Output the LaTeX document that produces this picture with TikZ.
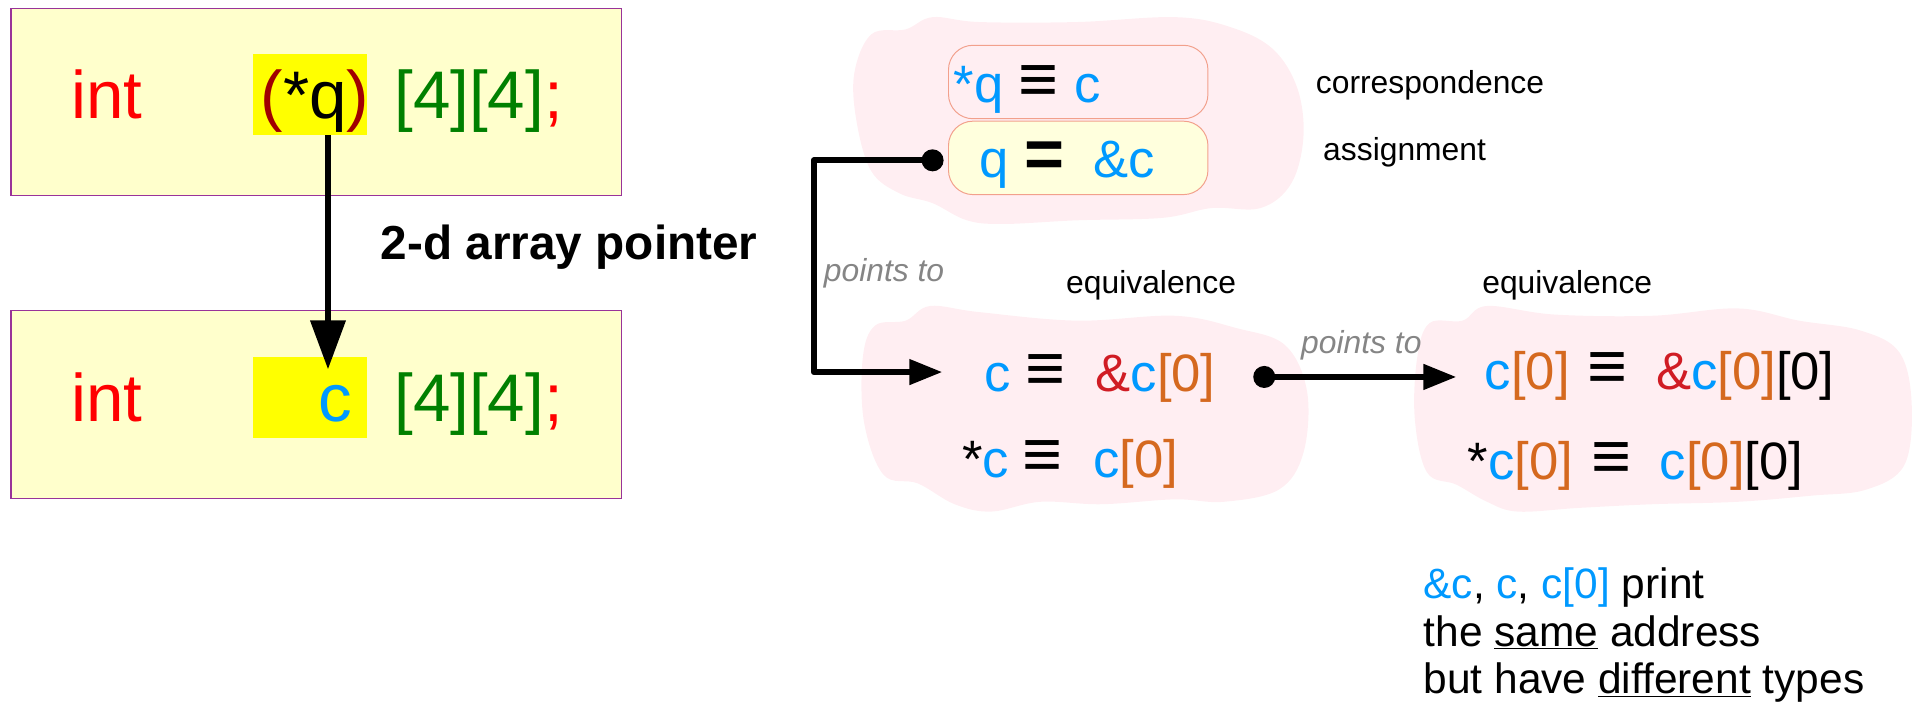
\documentclass[tikz,border=0pt]{standalone}
\usepackage{fontspec}
\setmainfont{Liberation Sans}
\usetikzlibrary{arrows.meta}
\definecolor{boxfill}{HTML}{FFFFCC}
\definecolor{boxline}{HTML}{993399}
\definecolor{hl}{HTML}{FFFF00}
\definecolor{kw}{HTML}{FF0000}
\definecolor{dred}{HTML}{A00000}
\definecolor{grn}{HTML}{008000}
\definecolor{cblue}{HTML}{0099FF}
\definecolor{org}{HTML}{D5691F}
\definecolor{amp}{HTML}{D01C24}
\definecolor{blobfill}{HTML}{FFEEF2}
\definecolor{pillline}{HTML}{F2A08C}
\definecolor{pillyel}{HTML}{FFFFDD}
\definecolor{gr}{HTML}{858585}
\newcommand\fs[1]{\fontsize{#1}{#1}\selectfont}
\newcommand\xb[1]{\textcolor{cblue}{#1}}
\newcommand\xo[1]{\textcolor{org}{#1}}
\newcommand\xr[1]{\textcolor{amp}{#1}}
\newcommand\eqv{{\fs{56}\bfseries ≡}}
\begin{document}
\begin{tikzpicture}[x=1pt,y=-1pt,
  txt/.style={inner sep=0pt, anchor=base west},
  codebox/.style={draw=boxline, line width=0.9pt, fill=boxfill, inner sep=0pt, minimum width=499pt, minimum height=153pt},
  hlbox/.style={fill=hl, inner sep=0pt, minimum width=93pt, minimum height=66pt},
  pill/.style={draw=pillline, line width=0.8pt, rounded corners=20pt, inner sep=0pt, minimum width=212pt, minimum height=60pt},
  dot/.style={circle, fill=black, inner sep=0pt, minimum size=18pt},
  conn/.style={line width=5pt, line join=round},
  lbl/.style={txt, font=\fs{26}},
  ptl/.style={txt, font=\fs{26}\itshape, text=gr}]
\useasboundingbox (0,0) rectangle (1568,574);

% left boxes
\node[codebox] (b1) at (258.5,83.5) {};
\node[codebox] (b2) at (258.5,330.5) {};
\node[hlbox] (hq) at (253.5,77) {};
\node[hlbox] (hc) at (253.5,325) {};

\node[txt, text=kw] (i1) at (58,97) {\fs{55}int};
\node[txt] (q1) at (213,97) {\fs{55}\textcolor{dred}{(}*q\textcolor{dred}{)}};
\node[txt, text=grn] (a1) at (322,97) {\fs{55}[4][4]\textcolor{kw}{;}};

\node[txt, text=kw] (i2) at (58,344) {\fs{55}int};
\node[txt, text=cblue, anchor=base east] (c2) at (288,344) {\fs{55}c};
\node[txt, text=grn] (a2) at (322,344) {\fs{55}[4][4]\textcolor{kw}{;}};

\draw[conn, -{Triangle[length=40pt,width=28pt]}] ([xshift=14.5pt]hq.south) -- ([xshift=14.5pt,yshift=-10pt]hc.north);

\node[txt] (title) at (311,212) {\fs{39}\bfseries 2-d array pointer};

% blobs
\fill[blobfill] plot[smooth cycle, tension=0.6] coordinates {(712,28) (740,24) (762,14) (800,18) (880,18) (960,14) (1005,22) (1040,40) (1060,72) (1065,112) (1055,150) (1030,170) (990,170) (950,178) (880,180) (820,183) (790,180) (762,166) (735,158) (712,140) (700,100) (698,60)};
\fill[blobfill] plot[smooth cycle, tension=0.6] coordinates {(715,266) (740,262) (760,250) (800,255) (880,262) (960,258) (1010,268) (1050,282) (1068,320) (1065,370) (1045,400) (1000,410) (960,408) (900,412) (850,410) (810,418) (780,412) (750,395) (722,388) (706,345) (705,292)};
\fill[blobfill] plot[smooth cycle, tension=0.6] coordinates {(1168,264) (1195,262) (1215,250) (1270,257) (1350,258) (1420,252) (1470,262) (1520,270) (1552,288) (1562,330) (1556,380) (1525,400) (1480,405) (1420,410) (1350,412) (1290,415) (1240,418) (1215,410) (1190,396) (1166,386) (1156,342) (1158,292)};

\node[pill, fill=blobfill] (p1) at (881,67) {};
\node[pill, fill=pillyel] (p2) at (881,129) {};

% pill texts
\node[txt] (ra1) at (779,84) {\fs{43}\xb{*q}};
\node[txt] (ra2) at (832,84) {\eqv};
\node[txt] (ra3) at (878,84) {\fs{43}\xb{c}};
\node[txt] (rb1) at (800,145) {\fs{43}\xb{q}};
\node[txt] (rb2) at (837,145) {\fs{56}\bfseries =};
\node[txt] (rb3) at (893,145) {\fs{43}\xb{\&c}};

\node[lbl] (corr) at (1075,76) {correspondence};
\node[lbl] (assg) at (1081,131) {assignment};
\node[lbl] (eq1) at (871,240) {equivalence};
\node[lbl] (eq2) at (1211,240) {equivalence};

% middle blob texts
\node[txt] (rc1) at (804,320) {\fs{43}\xb{c}};
\node[txt] (rc2) at (838,320) {\eqv};
\node[txt] (rc3) at (895,320) {\fs{43}\xr{\&}\xb{c}\xo{[0]}};
\node[txt] (rd1) at (786,390) {\fs{43}*\xb{c}};
\node[txt] (rd2) at (835,390) {\eqv};
\node[txt] (rd3) at (893,390) {\fs{43}\xb{c}\xo{[0]}};

% right blob texts
\node[txt] (re1) at (1213,318) {\fs{43}\xb{c}\xo{[0]}};
\node[txt] (re2) at (1297,318) {\eqv};
\node[txt] (re3) at (1353,318) {\fs{43}\xr{\&}\xb{c}\xo{[0]}[0]};
\node[txt] (rf1) at (1199,392) {\fs{43}*\xb{c}\xo{[0]}};
\node[txt] (rf2) at (1300,392) {\eqv};
\node[txt] (rf3) at (1356,392) {\fs{43}\xb{c}\xo{[0]}[0]};

% connectors
\node[dot] (d1) at (762,131) {};
\coordinate (k1) at (665,131);
\coordinate (t1) at (770,304);
\draw[conn, -{Triangle[length=27pt,width=20pt]}] (d1.center) -- (k1) |- (t1);
\node[ptl] (pt1) at (673,230) {points to};

\node[dot] (d2) at (1033,308) {};
\coordinate (t2) at (1190,308);
\draw[conn, -{Triangle[length=27pt,width=20pt]}] (d2.center) -- (t2);
\node[ptl] (pt2) at (1063,289) {points to};

% note
\node[txt] (n1) at (1163,489) {\fs{34.7}\xb{\&c}, \xb{c}, \xb{c[0]} print};
\node[txt] (n2) at (1163,528) {\fs{34.7}the \underline{same} address};
\node[txt] (n3) at (1163,567) {\fs{34.7}but have \underline{different} types};
\end{tikzpicture}
\end{document}
